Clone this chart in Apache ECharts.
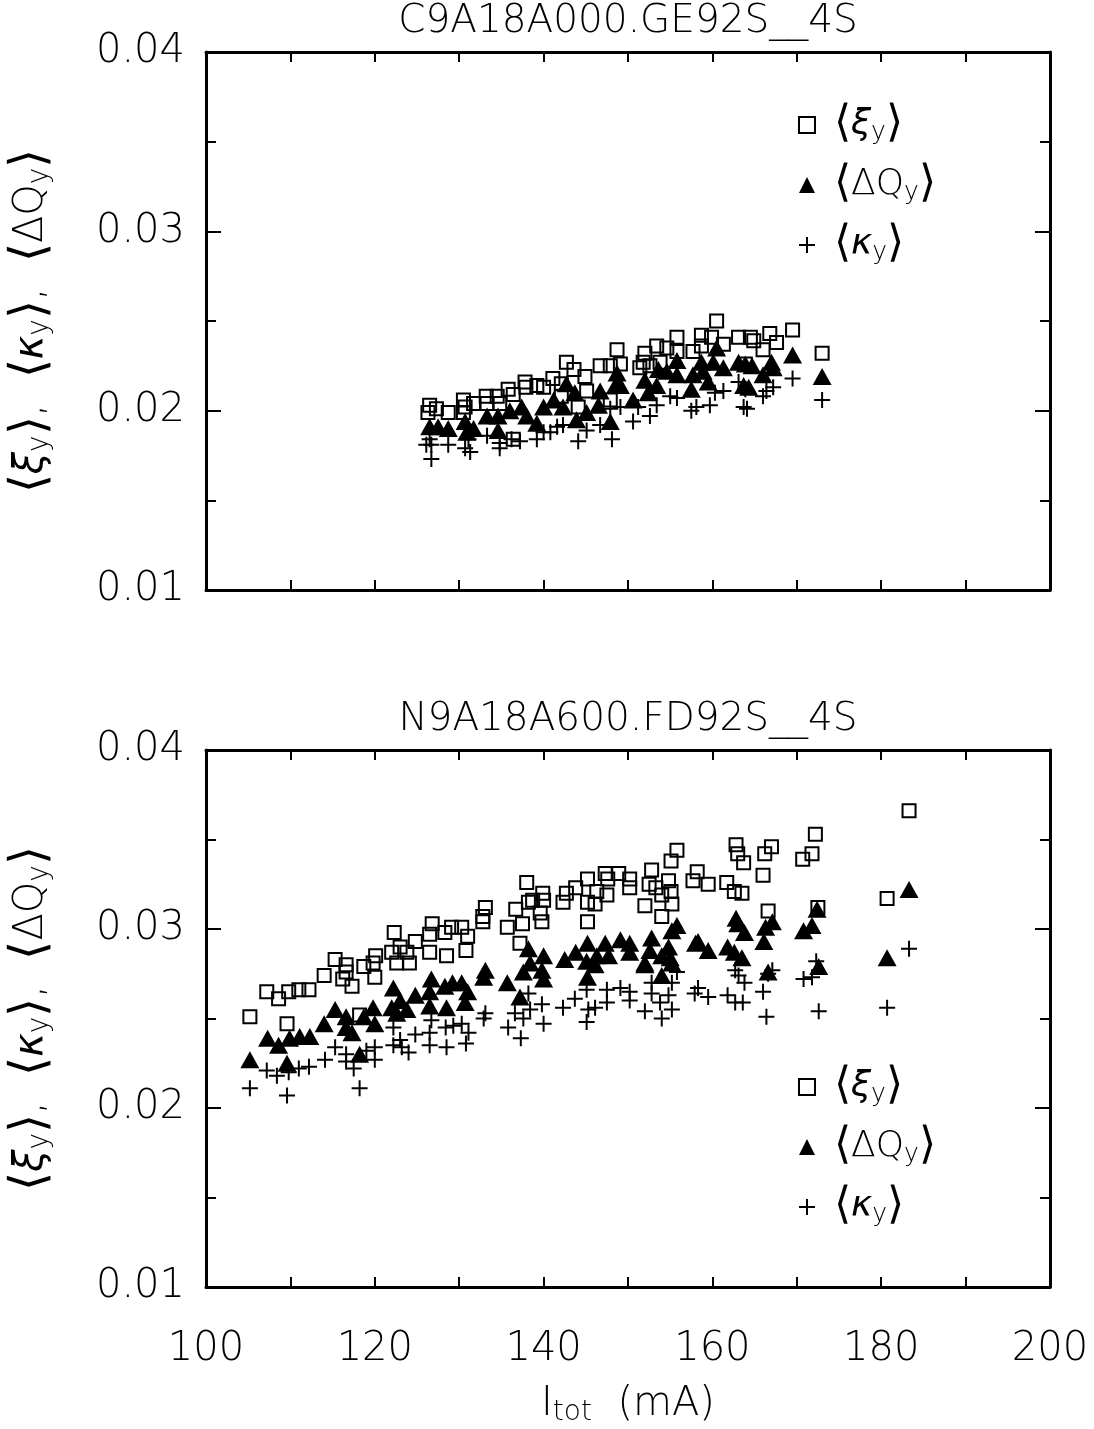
<!DOCTYPE html>
<html>
<head>
<meta charset="utf-8">
<script src="https://cdn.jsdelivr.net/npm/echarts@6/dist/echarts.min.js"></script>
<style>
  html, body { margin: 0; padding: 0; background: #fff; }
  #chart { width: 1094px; height: 1429px; }
</style>
</head>
<body>
<div id="chart"></div>
<script>
// axis ranges / ticks
const xRange = [100, 200];
const yRange = [0.01, 0.04];
const panelTitles = ['C9A18A000.GE92S__4S', 'N9A18A600.FD92S__4S'];

// top panel: [I_tot (mA), value]
const topXi = [
  [126.5, 0.0203], [126.3, 0.0199], [127.3, 0.0201], [128.7, 0.0199], [130.5, 0.0206], [130.7, 0.0202],
  [130.5, 0.0199], [131.7, 0.0204], [133.2, 0.0208], [133.3, 0.0204], [134.5, 0.0208], [135.8, 0.0212],
  [134.8, 0.0204], [136.4, 0.0209], [137.8, 0.0216], [137.9, 0.0213], [139.2, 0.0214], [140.0, 0.0213],
  [141.1, 0.0218], [142.1, 0.0215], [142.7, 0.0227], [143.6, 0.0223], [144.9, 0.0219], [146.7, 0.0225],
  [147.9, 0.0225], [148.7, 0.0234], [149.1, 0.0226], [144.1, 0.0202], [147.9, 0.0206], [142.1, 0.0208],
  [145.1, 0.0211], [136.4, 0.0184], [152.0, 0.0232], [151.8, 0.0227], [153.4, 0.0236], [154.6, 0.0235],
  [155.8, 0.0241], [153.8, 0.0227], [152.6, 0.0225], [155.8, 0.0233], [158.7, 0.0242], [159.9, 0.0241],
  [160.5, 0.0250], [161.3, 0.0237], [158.7, 0.0236], [157.7, 0.0233], [163.1, 0.0241], [164.5, 0.0241],
  [164.9, 0.0239], [163.9, 0.0226], [166.8, 0.0243], [167.6, 0.0238], [166.0, 0.0234], [169.5, 0.0245],
  [173.0, 0.0232], [151.4, 0.0224]
];
const topDq = [
  [126.5, 0.0191], [127.5, 0.0191], [128.7, 0.0190], [130.7, 0.0194], [130.9, 0.0188], [131.7, 0.0190],
  [133.3, 0.0197], [134.6, 0.0197], [134.6, 0.0189], [136.0, 0.0200], [137.4, 0.0202], [138.0, 0.0197],
  [139.2, 0.0193], [140.0, 0.0202], [141.2, 0.0206], [142.3, 0.0202], [142.7, 0.0215], [143.7, 0.0210],
  [143.9, 0.0195], [145.1, 0.0199], [146.5, 0.0203], [146.7, 0.0211], [147.9, 0.0194], [148.7, 0.0221],
  [148.5, 0.0214], [149.1, 0.0214], [150.6, 0.0206], [152.0, 0.0217], [152.4, 0.0210], [153.6, 0.0223],
  [153.4, 0.0214], [154.6, 0.0222], [155.8, 0.0228], [155.8, 0.0220], [157.7, 0.0220], [157.5, 0.0212],
  [158.7, 0.0227], [158.9, 0.0222], [159.5, 0.0216], [160.1, 0.0227], [160.5, 0.0235], [161.3, 0.0224],
  [163.1, 0.0227], [163.9, 0.0226], [164.7, 0.0225], [163.7, 0.0214], [164.3, 0.0213], [166.0, 0.0220],
  [167.0, 0.0227], [167.2, 0.0224], [169.5, 0.0231], [173.0, 0.0219]
];
const topKappa = [
  [126.5, 0.0184], [126.7, 0.0181], [126.7, 0.0173], [126.1, 0.0181], [128.7, 0.0181], [130.7, 0.0179],
  [131.3, 0.0177], [131.1, 0.0184], [133.3, 0.0186], [134.8, 0.0182], [134.8, 0.0179], [136.2, 0.0184],
  [137.2, 0.0183], [139.2, 0.0184], [140.0, 0.0188], [140.8, 0.0188], [141.6, 0.0191], [142.3, 0.0192],
  [144.1, 0.0183], [145.1, 0.0189], [146.7, 0.0192], [148.1, 0.0184], [149.1, 0.0202], [147.9, 0.0201],
  [150.6, 0.0194], [151.2, 0.0202], [152.6, 0.0197], [153.4, 0.0203], [155.0, 0.0208], [155.8, 0.0207],
  [157.5, 0.0200], [158.1, 0.0202], [159.7, 0.0203], [160.3, 0.0210], [161.3, 0.0211], [163.1, 0.0216],
  [163.7, 0.0202], [164.1, 0.0201], [163.9, 0.0212], [166.0, 0.0208], [166.4, 0.0211], [167.2, 0.0213],
  [169.5, 0.0218], [173.0, 0.0206]
];

// bottom panel
const botXi = [
  [105.2, 0.0251], [107.2, 0.0265], [108.6, 0.0261], [109.8, 0.0265], [111.0, 0.0266], [112.2, 0.0266],
  [109.6, 0.0247], [114.0, 0.0274], [115.3, 0.0283], [116.6, 0.0280], [116.6, 0.0276], [116.2, 0.0272],
  [117.3, 0.0268], [118.7, 0.0279], [119.8, 0.0281], [120.1, 0.0285], [120.0, 0.0273], [118.2, 0.0252],
  [122.3, 0.0298], [123.0, 0.0290], [122.0, 0.0287], [122.6, 0.0281], [123.8, 0.0287], [124.1, 0.0281],
  [124.8, 0.0293], [126.8, 0.0303], [126.5, 0.0297], [126.5, 0.0287], [128.5, 0.0285], [128.3, 0.0298],
  [129.1, 0.0301], [130.3, 0.0301], [131.0, 0.0296], [130.8, 0.0288], [133.1, 0.0312], [132.8, 0.0307],
  [132.8, 0.0304], [135.7, 0.0301], [136.7, 0.0311], [137.2, 0.0292], [138.0, 0.0326], [138.2, 0.0315],
  [138.7, 0.0316], [137.5, 0.0303], [139.6, 0.0309], [139.9, 0.0320], [140.0, 0.0316], [139.8, 0.0304],
  [142.3, 0.0315], [142.7, 0.0320], [143.8, 0.0323], [145.2, 0.0328], [146.3, 0.0321], [145.2, 0.0315],
  [146.1, 0.0314], [145.2, 0.0304], [147.3, 0.0331], [147.6, 0.0328], [147.5, 0.0319], [148.9, 0.0331],
  [150.2, 0.0328], [150.2, 0.0323], [152.0, 0.0313], [152.8, 0.0333], [152.5, 0.0325], [153.3, 0.0323],
  [154.0, 0.0319], [154.8, 0.0327], [155.1, 0.0321], [155.2, 0.0314], [154.0, 0.0307], [155.1, 0.0338],
  [155.8, 0.0344], [157.7, 0.0327], [158.2, 0.0332], [159.5, 0.0325], [161.7, 0.0326], [162.6, 0.0321],
  [163.5, 0.0320], [162.8, 0.0347], [163.0, 0.0342], [163.7, 0.0337], [166.2, 0.0342], [167.0, 0.0346],
  [166.0, 0.0330], [166.6, 0.0310], [170.7, 0.0339], [171.8, 0.0342], [172.2, 0.0353], [172.5, 0.0312],
  [180.7, 0.0317], [183.3, 0.0366]
];
const botDq = [
  [105.2, 0.0227], [107.3, 0.0239], [108.6, 0.0235], [109.6, 0.0225], [109.9, 0.0239], [111.1, 0.0240],
  [112.3, 0.0240], [114.0, 0.0247], [115.3, 0.0255], [116.6, 0.0251], [116.6, 0.0245], [117.3, 0.0242],
  [118.2, 0.0230], [118.7, 0.0251], [119.8, 0.0256], [120.0, 0.0247], [122.2, 0.0267], [123.0, 0.0260],
  [122.0, 0.0256], [122.6, 0.0253], [123.8, 0.0255], [124.8, 0.0263], [126.7, 0.0272], [126.5, 0.0265],
  [126.5, 0.0257], [128.5, 0.0256], [128.3, 0.0268], [129.2, 0.0270], [130.3, 0.0270], [131.0, 0.0265],
  [130.7, 0.0259], [133.1, 0.0277], [132.9, 0.0273], [135.7, 0.0270], [138.2, 0.0289], [138.4, 0.0281],
  [137.6, 0.0276], [137.2, 0.0262], [140.0, 0.0285], [139.8, 0.0277], [140.0, 0.0272], [142.5, 0.0283],
  [143.8, 0.0287], [145.2, 0.0292], [145.1, 0.0282], [145.2, 0.0273], [146.1, 0.0280], [146.3, 0.0285],
  [147.3, 0.0292], [147.7, 0.0285], [149.1, 0.0294], [150.2, 0.0292], [150.2, 0.0287], [152.0, 0.0281],
  [152.8, 0.0295], [152.6, 0.0288], [152.0, 0.0280], [154.0, 0.0285], [154.8, 0.0290], [155.0, 0.0284],
  [155.2, 0.0281], [154.0, 0.0274], [155.2, 0.0299], [155.8, 0.0302], [158.0, 0.0292], [158.3, 0.0293],
  [159.5, 0.0288], [161.8, 0.0290], [162.6, 0.0287], [163.5, 0.0284], [162.8, 0.0306], [163.0, 0.0303],
  [163.8, 0.0298], [166.1, 0.0293], [166.3, 0.0301], [167.1, 0.0304], [166.6, 0.0276], [170.8, 0.0299],
  [171.8, 0.0302], [172.4, 0.0311], [172.6, 0.0279], [180.7, 0.0284], [183.3, 0.0322]
];
const botKappa = [
  [105.2, 0.0211], [107.2, 0.0221], [108.4, 0.0218], [109.6, 0.0207], [109.8, 0.0220], [111.0, 0.0222],
  [112.2, 0.0223], [114.1, 0.0227], [115.3, 0.0234], [116.6, 0.0230], [116.6, 0.0226], [117.5, 0.0222],
  [118.2, 0.0211], [119.0, 0.0232], [120.0, 0.0234], [120.0, 0.0227], [122.2, 0.0245], [122.2, 0.0235],
  [123.0, 0.0238], [123.2, 0.0234], [124.0, 0.0231], [124.8, 0.0241], [126.7, 0.0249], [126.5, 0.0242],
  [126.5, 0.0235], [128.5, 0.0234], [128.4, 0.0245], [129.3, 0.0246], [130.3, 0.0247], [131.1, 0.0242],
  [130.8, 0.0236], [133.1, 0.0253], [132.9, 0.0250], [135.8, 0.0245], [136.6, 0.0253], [137.3, 0.0239],
  [138.2, 0.0264], [138.4, 0.0255], [137.6, 0.0250], [139.8, 0.0258], [140.0, 0.0247], [142.3, 0.0256],
  [143.7, 0.0261], [145.1, 0.0266], [145.3, 0.0255], [145.1, 0.0248], [146.1, 0.0256], [147.5, 0.0266],
  [147.5, 0.0259], [149.1, 0.0267], [150.2, 0.0265], [150.2, 0.0260], [152.0, 0.0254], [152.8, 0.0270],
  [152.8, 0.0264], [153.8, 0.0259], [154.8, 0.0263], [155.2, 0.0255], [154.0, 0.0250], [155.8, 0.0276],
  [155.2, 0.0270], [157.9, 0.0264], [158.3, 0.0267], [159.5, 0.0262], [161.8, 0.0263], [162.7, 0.0259],
  [163.6, 0.0259], [162.7, 0.0277], [163.1, 0.0274], [163.8, 0.0270], [166.0, 0.0265], [166.4, 0.0251],
  [167.1, 0.0277], [166.6, 0.0275], [170.8, 0.0272], [171.8, 0.0273], [172.3, 0.0282], [172.6, 0.0254],
  [180.7, 0.0256], [183.3, 0.0289]
];

const FONT = 'DejaVu Sans';
const PLUS = 'path://M0,8L16,8M8,0L8,16';

function makeRich(k, subPad) {
  return {
    b: { fontFamily: FONT, fontWeight: 200, fontSize: Math.round(44 * k), color: '#000' },
    t: { fontFamily: FONT, fontWeight: 200, fontSize: Math.round(36 * k), color: '#000' },
    g: { fontFamily: FONT, fontWeight: 200, fontSize: Math.round(36 * k), fontStyle: 'italic', color: '#000' },
    s: { fontFamily: FONT, fontWeight: 200, fontSize: Math.round(25 * k), color: '#000', padding: [subPad, 0, 0, 0] },
    p: { fontFamily: FONT, fontWeight: 200, fontSize: 36, color: '#000', padding: [0, 0, 0, 14] }
  };
}
const legendRich = makeRich(1, 14);
const nameRich = makeRich(1.12, 16);

const legendText = {
  xi: '{p|}{b|⟨}{g|ξ}{s|y}{b|⟩}',
  dq: '{p|}{b|⟨}{t|ΔQ}{s|y}{b|⟩}',
  kappa: '{p|}{b|⟨}{g|κ}{s|y}{b|⟩}'
};
const yName = '{b|⟨}{g|ξ}{s|y}{b|⟩}{t|,  }{b|⟨}{g|κ}{s|y}{b|⟩}{t|,  }{b|⟨}{t|ΔQ}{s|y}{b|⟩}';

const grids = [
  { left: 206, top: 52, width: 844, height: 538 },
  { left: 206, top: 750, width: 844, height: 537 }
];

const line = { show: true, onZero: false, lineStyle: { color: '#000', width: 3 } };
const labelStyle = { fontFamily: FONT, fontWeight: 200, fontSize: 40, color: '#000' };

const xAxes = [];
const yAxes = [];
grids.forEach((g, i) => {
  ['bottom', 'top'].forEach((pos) => {
    const main = pos === 'bottom';
    xAxes.push({
      gridIndex: i, type: 'value', position: pos, min: xRange[0], max: xRange[1], interval: 20,
      axisLine: line,
      axisTick: { show: true, inside: true, length: 10, lineStyle: { color: '#000', width: 2 } },
      minorTick: { show: true, splitNumber: 2, length: 10, lineStyle: { color: '#000', width: 2 } },
      splitLine: { show: false },
      axisLabel: { show: main && i === 1, margin: 43, ...labelStyle },
      name: main && i === 1 ? '{t|I}{s|tot}{t|  (mA)}' : '',
      nameLocation: 'middle', nameGap: 96,
      nameTextStyle: { rich: makeRich(1.1, 16) }
    });
  });
  ['left', 'right'].forEach((pos) => {
    const main = pos === 'left';
    yAxes.push({
      gridIndex: i, type: 'value', position: pos, min: yRange[0], max: yRange[1], interval: 0.01,
      axisLine: line,
      axisTick: { show: true, inside: true, length: 15, lineStyle: { color: '#000', width: 2 } },
      minorTick: { show: true, splitNumber: 2, length: 10, lineStyle: { color: '#000', width: 2 } },
      splitLine: { show: false },
      axisLabel: { show: main, margin: 21, formatter: (v) => v.toFixed(2), ...labelStyle },
      name: main ? yName : '',
      nameLocation: 'middle', nameRotate: 90, nameGap: 150,
      nameTextStyle: { rich: nameRich }
    });
  });
});

function scatter(name, data, i) {
  const base = { name, type: 'scatter', data, xAxisIndex: i * 2, yAxisIndex: i * 2, animation: false };
  if (name === 'xi') {
    return { ...base, symbol: 'rect', symbolSize: 13,
      itemStyle: { color: 'rgba(0,0,0,0)', borderColor: '#000', borderWidth: 2, opacity: 1 } };
  }
  if (name === 'dq') {
    return { ...base, symbol: 'triangle', symbolSize: [19, 17], itemStyle: { color: '#000', opacity: 1 } };
  }
  return { ...base, symbol: PLUS, symbolSize: 16,
    itemStyle: { color: 'rgba(0,0,0,0)', borderColor: '#000', borderWidth: 2, opacity: 1 } };
}

const legendBase = {
  orient: 'vertical', itemWidth: 16, itemHeight: 16, itemGap: 16,
  data: ['xi', 'dq', 'kappa'], selectedMode: false,
  formatter: (n) => legendText[n],
  textStyle: { rich: legendRich }
};

const chart = echarts.init(document.getElementById('chart'));
chart.setOption({
  backgroundColor: '#fff',
  animation: false,
  grid: grids.map((g) => ({ ...g, outerBoundsMode: 'none' })),
  xAxis: xAxes,
  yAxis: yAxes,
  legend: [
    { ...legendBase, left: 793, top: 98 },
    { ...legendBase, left: 793, top: 1060 }
  ],
  graphic: panelTitles.map((t, i) => ({
    type: 'text', x: 628, y: i === 0 ? 22 : 720,
    style: { text: t, font: '200 39px "DejaVu Sans"', fill: '#000', align: 'center', verticalAlign: 'middle',
      textAlign: 'center', textVerticalAlign: 'middle' }
  })),
  series: [
    scatter('xi', topXi, 0), scatter('dq', topDq, 0), scatter('kappa', topKappa, 0),
    scatter('xi', botXi, 1), scatter('dq', botDq, 1), scatter('kappa', botKappa, 1)
  ]
});
</script>
</body>
</html>
